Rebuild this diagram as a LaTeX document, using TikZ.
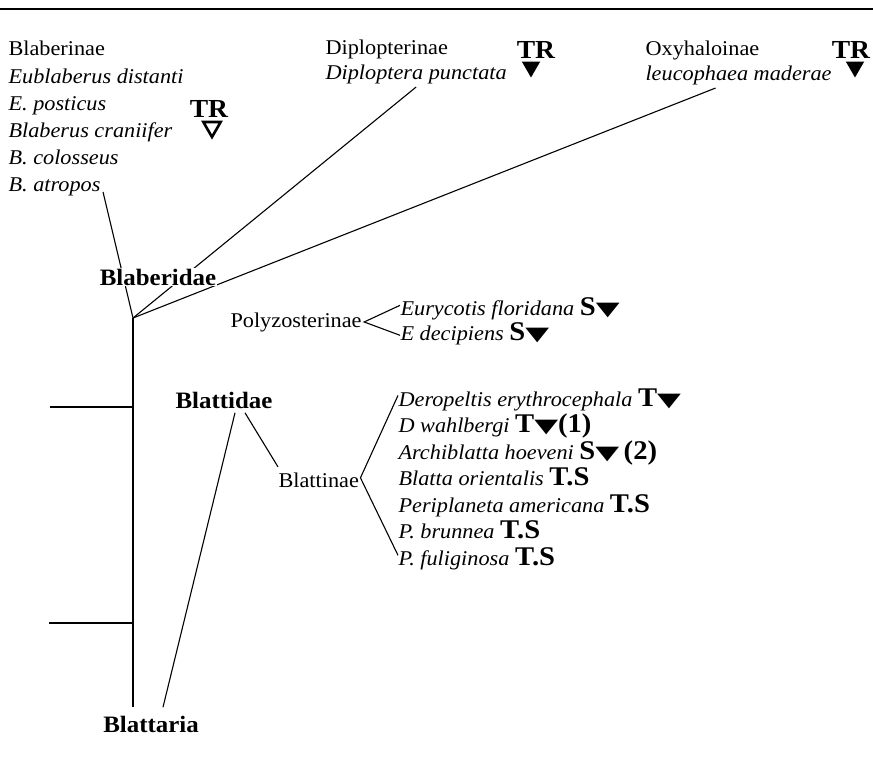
\documentclass[tikz,border=0pt]{standalone}
\usepackage{fontspec}
\setmainfont{Liberation Serif}[FakeStretch=1.06]
\newfontfamily\symfont{DejaVu Sans}
\usetikzlibrary{shapes.geometric}
\newcommand{\dtri}{{\symfont\fontsize{31}{31}\selectfont\scalebox{1}[0.62]{▼}}}
\newcommand{\mk}[1]{{\normalfont\bfseries\fontsize{27}{27}\selectfont #1}}

\begin{document}
\begin{tikzpicture}[x=1pt, y=-1pt, line width=1.1pt,
  every node/.style={inner sep=0pt, font=\fontsize{21}{27}\selectfont},
  sp/.style={anchor=base west, font=\fontsize{21}{27}\selectfont\itshape},
  fam/.style={font=\fontsize{23.5}{28}\selectfont\bfseries, fill=white, inner sep=1pt},
  tr/.style={font=\fontsize{26}{26}\selectfont\bfseries},
  tri/.style={regular polygon, regular polygon sides=3, shape border rotate=180,
    minimum size=21pt}]
  \useasboundingbox (0,0) rectangle (873,757);
  \draw[line width=2pt] (0,9) -- (873,9);

  % Blaberidae subfamilies
  \node[anchor=base west] (blab) at (8,56) {Blaberinae};
  \foreach \t [count=\i] in {{Eublaberus distanti}, {E. posticus}, {Blaberus craniifer},
      {B. colosseus}, {B. atropos}} {
    \node[sp] (bl\i) at (8, 56+27.2*\i) {\t};
  }
  \node[tr] (trA) at (209,109) {TR};
  \node[tri, draw, line width=2.6pt, minimum size=20pt] (otA) at (212,127) {};

  \node[anchor=base west] (dip) at (325,55) {Diplopterinae};
  \node[sp] (dp2) at (325,80) {Diploptera punctata};
  \node[tr] (trD) at (536,50) {TR};
  \node[tri, fill] (ttD) at (531,67) {};

  \node[anchor=base west] (oxy) at (645,56) {Oxyhaloinae};
  \node[sp] (ox2) at (645,81) {leucophaea maderae};
  \node[tr] (trO) at (851,50) {TR};
  \node[tri, fill] (ttO) at (855,67) {};

  \coordinate (jn) at (133,318);
  \coordinate (rt) at (133,707);
  \draw ([xshift=2pt]bl5.base east) -- (jn);
  \draw ([yshift=-2pt]dp2.south) -- (jn);
  \draw ([xshift=-23pt,yshift=-2pt]ox2.south) -- (jn);
  \node[fam] (bdae) at (158,277) {Blaberidae};

  % trunk
  \coordinate (tk1) at (50,407);
  \coordinate (tk2) at (49,623);
  \draw (jn) -- (rt);
  \draw (tk1) -- (tk1 -| rt);
  \draw (tk2) -- (tk2 -| rt);

  % Polyzosterinae
  \node[anchor=base west] (poly) at (230,327) {Polyzosterinae};
  \node[sp] (ef) at (400,315) {Eurycotis floridana \mk{S\dtri}};
  \node[sp] (ed) at (400,340) {E decipiens \mk{S\dtri}};
  \draw ([yshift=3pt]ef.west) -- ([xshift=2pt]poly.east) -- ([yshift=-2pt]ed.west);

  % Blattidae
  \node[fam] (btd) at (224,400) {Blattidae};
  \node[fam] (bta) at (151,724) {Blattaria};
  \node[anchor=base west] (bn) at (278,487) {Blattinae};
  \foreach \t [count=\i] in {{Deropeltis erythrocephala \mk{T\dtri}},
      {D wahlbergi \mk{T\dtri(1)}}, {Archiblatta hoeveni \mk{S\dtri\,(2)}},
      {Blatta orientalis \mk{T.S}}, {Periplaneta americana \mk{T.S}},
      {P. brunnea \mk{T.S}}, {P. fuliginosa \mk{T.S}}} {
    \node[sp] (bt\i) at (398, 379.5+26.5*\i) {\t};
  }
  \draw ([xshift=11pt,yshift=-3pt]btd.south) -- ([xshift=12pt,yshift=7pt]bta.north);
  \draw ([xshift=21pt,yshift=-3pt]btd.south) -- ([yshift=5pt]bn.north west);
  \draw ([yshift=4pt]bt1.west) -- ([xshift=1pt,yshift=2pt]bn.east) -- ([yshift=3pt]bt7.west);
\end{tikzpicture}
\end{document}
